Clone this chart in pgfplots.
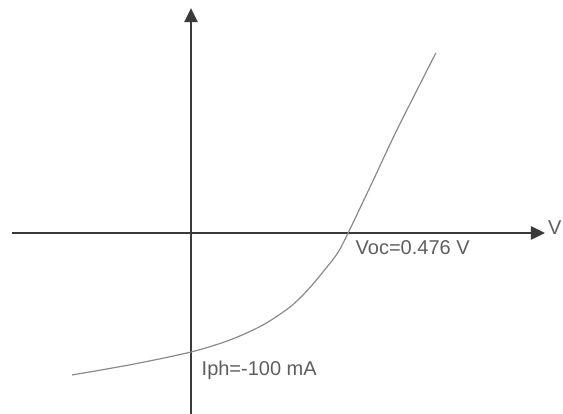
\documentclass[border=0pt]{standalone}
\usepackage{pgfplots}
\pgfplotsset{compat=1.18}
\usepackage{fontspec}
\setmainfont{Liberation Sans}
\usetikzlibrary{arrows.meta}
\definecolor{axisgray}{HTML}{3A3A3A}
\definecolor{curvegray}{HTML}{8A8A8A}
\definecolor{textgray}{HTML}{5E5E5E}
\begin{document}
\begin{tikzpicture}
\begin{axis}[
  x=330pt, y=1.19pt,
  axis lines=middle,
  xmin=-0.5424, xmax=1.0727,
  ymin=-156, ymax=189,
  xtick=\empty, ytick=\empty,
  axis line style={draw=axisgray, line width=2.5pt,
    -{Triangle[length=14pt,width=13pt]}},
  clip=false,
]
% I-V characteristic of the illuminated cell (V in volts, I in mA)
\addplot[smooth, tension=0.5, curvegray, line width=1.2pt] coordinates {
  (-0.3606,-119.3)
  (-0.18,-110.5)
  (0.000,-100.0)
  (0.118,-89.9)
  (0.218,-77.3)
  (0.300,-62.2)
  (0.355,-47.5)
  (0.402,-32.0)
  (0.445,-16.5)
  (0.476,0.0)
  (0.550,43.0)
  (0.624,86.6)
  (0.742,151.3)
};
\coordinate (o) at (axis cs:0,0);
\node[anchor=west, text=textgray, inner sep=0pt,
      font=\fontsize{20}{22}\selectfont] at (axis cs:1.0815,4.2) {V};
\node[anchor=west, text=textgray, inner sep=0pt,
      font=\fontsize{20}{22}\selectfont] at (axis cs:0.4985,-12) {Voc=0.476 V};
\node[anchor=west, text=textgray, inner sep=0pt,
      font=\fontsize{20}{22}\selectfont] at (axis cs:0.0318,-115.5) {Iph=-100 mA};
\end{axis}
\pgfresetboundingbox
\path[use as bounding box] ([shift={(-191pt,233pt)}]o) rectangle ([shift={(372pt,-180pt)}]o);
\end{tikzpicture}
\end{document}
